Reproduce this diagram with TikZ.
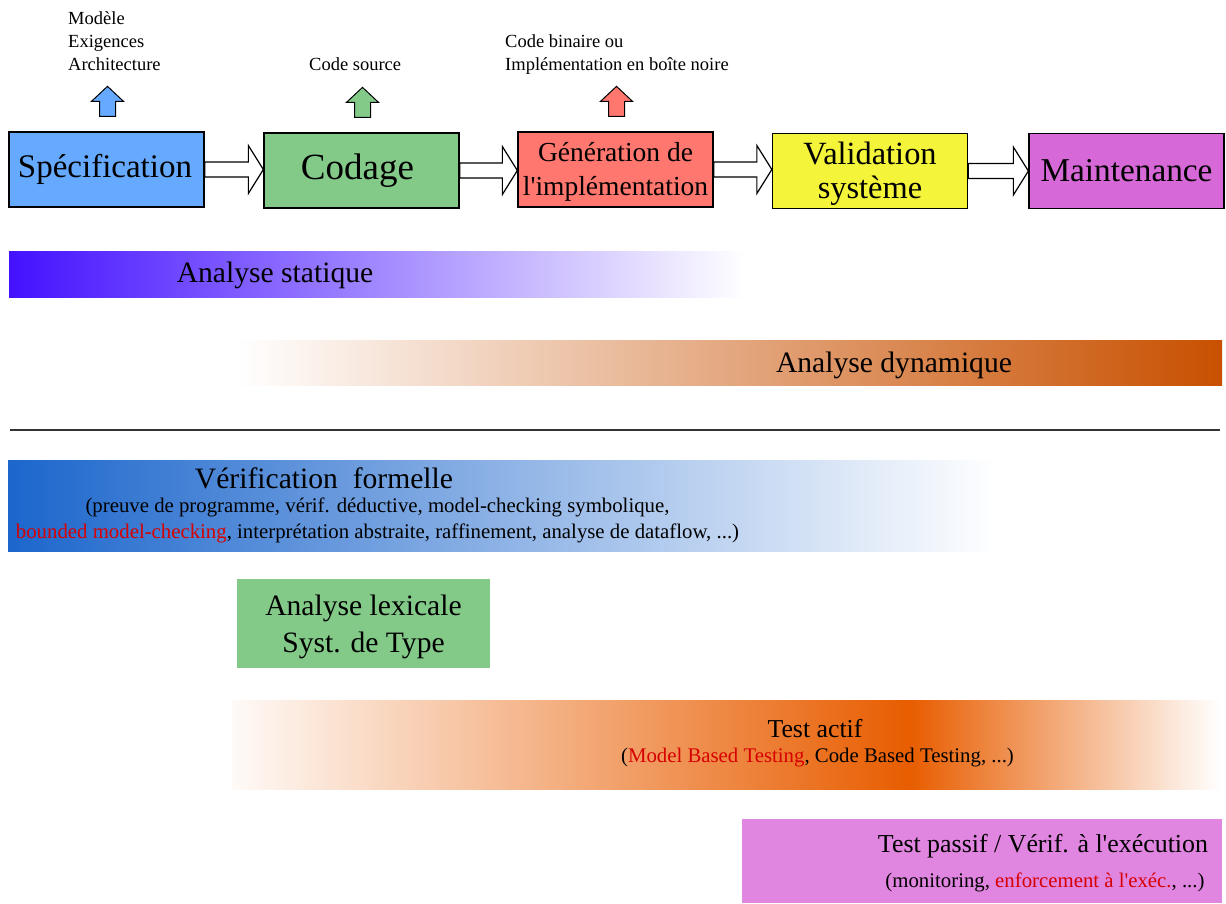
\documentclass[tikz,border=0pt]{standalone}
\usepackage{fontspec}
\setmainfont{Liberation Serif}[Ligatures=TeXOff]
\usetikzlibrary{calc}
\definecolor{cspec}{RGB}{102,170,255}
\definecolor{ccod}{RGB}{131,202,137}
\definecolor{cgen}{RGB}{255,119,110}
\definecolor{cval}{RGB}{244,244,58}
\definecolor{cmaint}{RGB}{215,104,216}
\definecolor{cstat}{RGB}{68,17,255}
\definecolor{cdyn}{RGB}{200,80,0}
\definecolor{cform}{RGB}{28,102,204}
\definecolor{clex}{RGB}{131,202,137}
\definecolor{cactif}{RGB}{232,93,0}
\definecolor{cpassif}{RGB}{224,133,224}
\definecolor{cred}{RGB}{215,0,0}
\pgfdeclarehorizontalshading{testactif}{100bp}{color(0bp)=(white); color(25bp)=(white!97!cactif); color(59.3bp)=(cactif); color(75bp)=(white); color(100bp)=(white)}
\newcommand{\fsz}[2]{\fontsize{#1}{#2}\selectfont}
\newcommand{\taller}[2]{\raisebox{0pt}[\dimexpr\height+#1\relax][\depth]{#2}}
\tikzset{
  phase/.style={draw=black, line width=1.3pt, minimum width=195pt, minimum height=75pt, inner sep=0pt, align=center},
  hollow/.style={draw=black, fill=white, line width=1.2pt, line join=miter},
  uparrow/.style={draw=black, line width=1pt},
  lbl/.style={inner sep=0pt, align=left, anchor=north west, font=\fsz{18.5}{23}},
  bandtxt/.style={inner sep=0pt, font=\fsz{29.6}{37}, align=center},
  subtxt/.style={inner sep=0pt, font=\fsz{20.8}{26}, align=center}
}
\begin{document}
\begin{tikzpicture}[x=1pt,y=-1pt]
\useasboundingbox (0,0) rectangle (1226,903);
% phases
\node[phase, fill=cspec, font=\fsz{33}{38}] (spec) at (106.5,169.5) {\hspace*{-3pt}Spécification};
\node[phase, fill=ccod, font=\fsz{37}{40}] (cod) at (361.5,170.5) {\hspace*{-8pt}Codage};
\node[phase, fill=cgen, font=\fsz{27.5}{34}] (gen) at (615.5,169.5) {\taller{4pt}{Génération de}\\l'implémentation};
\node[phase, fill=cval, font=\fsz{32.4}{34}] (val) at (870,171) {\taller{6pt}{Validation}\\système};
\node[phase, fill=cmaint, font=\fsz{33.3}{38}] (maint) at (1126.5,171) {Maintenance};
% hollow arrows between phases
\foreach \a/\b in {spec/cod, cod/gen, gen/val, val/maint}{
  \draw[hollow] let \p1=(\a.east), \p2=(\b.west) in
    (\x1,{\y1+7.5pt}) -- ({\x2-15pt},{\y1+7.5pt}) -- ({\x2-15pt},{\y1+24pt}) -- (\x2,\y1)
    -- ({\x2-15pt},{\y1-24pt}) -- ({\x2-15pt},{\y1-7.5pt}) -- (\x1,{\y1-7.5pt}) -- cycle;
}
% up arrows
\foreach \a/\c in {spec/cspec, cod/ccod, gen/cgen}{
  \draw[uparrow, fill=\c] let \p1=($(\a.north)+(1,-15)$) in
    ({\x1-8pt},\y1) -- ({\x1+8pt},\y1) -- ({\x1+8pt},{\y1+15pt}) -- ({\x1+16pt},{\y1+15pt})
    -- (\x1,{\y1+30pt}) -- ({\x1-16pt},{\y1+15pt}) -- ({\x1-8pt},{\y1+15pt}) -- cycle;
}
% top labels
\node[lbl] (lspec) at (68,11) {Modèle\\Exigences\\Architecture};
\node[lbl] (lcod) at (309,57) {Code source};
\node[lbl] (lgen) at (505,34) {Code binaire ou\\Implémentation en boîte noire};
% analyse statique
\shade[left color=cstat, right color=white] (9,251) rectangle (745,297);
\node[bandtxt] (stat) at (275,275) {Analyse statique};
% analyse dynamique
\shade[left color=white, right color=cdyn] (237,340) rectangle (1222,385);
\node[bandtxt] (dyn) at (894,365) {Analyse dynamique};
% separator
\coordinate (sepL) at (10,430);
\coordinate (sepR) at (1220,430);
\draw[line width=1.8pt, black!80] (sepL) -- (sepR);
% verification formelle
\shade[left color=cform, right color=white] (8,460) rectangle (997,551);
\node[bandtxt] (form) at (324,478) {Vérification\ \ formelle};
\node[subtxt] (formsub) at (377.5,520) {(preuve de programme, vérif. déductive, model-checking symbolique,\\\textcolor{cred}{bounded model-checking}, interprétation abstraite, raffinement, analyse de dataflow, ...)};
% analyse lexicale
\node[fill=clex, minimum width=253pt, minimum height=89pt, inner sep=0pt, align=center, font=\fsz{29.6}{37}] (lex) at (363.5,623.5) {\taller{6pt}{Analyse lexicale}\\Syst. de Type};
% test actif
\shade[shading=testactif] (232,700) rectangle (1220,789);
\node[inner sep=0pt, font=\fsz{25.8}{30}] (actif) at (815,729) {Test actif};
\node[subtxt] (actifsub) at (817.5,758) {(\textcolor{cred}{Model Based Testing}, Code Based Testing, ...)};
% test passif
\node[fill=cpassif, minimum width=480pt, minimum height=84pt, inner sep=0pt] (passif) at (982,861) {};
\node[inner sep=0pt, font=\fsz{25.9}{30}] (passift) at (1043,846) {Test passif / Vérif. à l'exécution};
\node[subtxt] (passifsub) at (1045,882) {(monitoring, \textcolor{cred}{enforcement à l'exéc.}, ...)};
\end{tikzpicture}
\end{document}
